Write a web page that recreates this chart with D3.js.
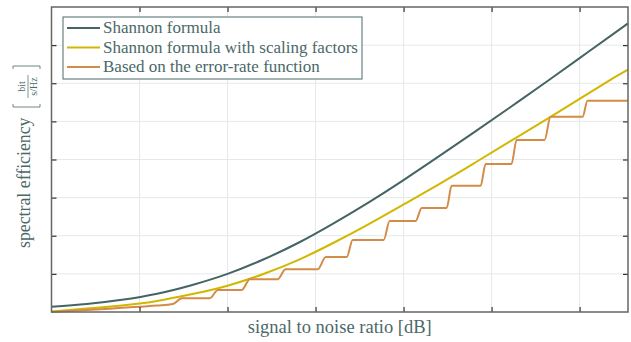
<!DOCTYPE html>
<html>
<head>
<meta charset="utf-8">
<script src="https://cdn.jsdelivr.net/npm/d3@7"></script>
<style>
  body { margin: 0; background: #fff; }
  text { font-family: "Liberation Serif", "DejaVu Serif", serif; fill: #4b6868; }
</style>
</head>
<body>
<script>
// data (SNR in dB, efficiency in bit/(s/Hz))
var shannonSnr = [-10, -8, -6, -4, -2, 0, 2, 4, 6, 8, 10, 12, 14, 16, 18, 20, 22, 22.75];
var shannonEff = [0.14, 0.21, 0.32, 0.48, 0.71, 1.0, 1.37, 1.81, 2.32, 2.87, 3.46, 4.08, 4.71, 5.35, 6.0, 6.66, 7.32, 7.57];

var scaledSnr = [-10, -8, -6, -5, -4, -2, 0, 2, 4, 6, 8, 10, 12, 14, 16, 18, 20, 22, 22.75];
var scaledEff = [0.01, 0.09, 0.17, 0.22, 0.29, 0.47, 0.69, 0.99, 1.36, 1.81, 2.3, 2.82, 3.35, 3.9, 4.46, 5.02, 5.59, 6.16, 6.36];

var errorSnr = [-10, -8, -6, -4, -3.1, -2.6, -1.0, -0.55, 0.81, 1.27, 2.85, 3.3, 5.13, 5.58, 6.77, 7.11,
                8.87, 9.21, 10.69, 11.03, 12.45, 12.73, 14.38, 14.66, 16.13, 16.42, 18.01, 18.35, 20.17, 20.45, 22.75];
var errorEff = [0.0, 0.05, 0.11, 0.17, 0.21, 0.36, 0.36, 0.58, 0.58, 0.86, 0.86, 1.12, 1.12, 1.44, 1.44, 1.89,
                1.89, 2.39, 2.39, 2.73, 2.73, 3.31, 3.31, 3.88, 3.88, 4.51, 4.51, 5.12, 5.12, 5.54, 5.54];

var xTicks = [-5, 0, 5, 10, 15, 20];
var yTicks = [1, 2, 3, 4, 5, 6, 7];

var legendNames = ["Shannon formula", "Shannon formula with scaling factors", "Based on the error-rate function"];
var colors = ["#456464", "#d2b700", "#d38c48"];

//Chart dimensions (in pixels)
var width = 631,
    height = 342,
    plotLeft = 51.5, plotRight = 628, plotTop = 7, plotBottom = 312;

var x = d3.scaleLinear().domain([-10, 22.75]).range([plotLeft, plotRight]);
var y = d3.scaleLinear().domain([0, 8]).range([plotBottom, plotTop]);

var svg = d3.select("body").append("svg")
    .attr("width", width)
    .attr("height", height);

//grid
svg.append("g").selectAll("line")
    .data(xTicks).enter().append("line")
    .attr("x1", function(d) { return x(d); }).attr("x2", function(d) { return x(d); })
    .attr("y1", plotTop).attr("y2", plotBottom)
    .attr("stroke", "#e6e9e9").attr("stroke-width", 1);
svg.append("g").selectAll("line")
    .data(yTicks).enter().append("line")
    .attr("y1", function(d) { return y(d); }).attr("y2", function(d) { return y(d); })
    .attr("x1", plotLeft).attr("x2", plotRight)
    .attr("stroke", "#e6e9e9").attr("stroke-width", 1);

//series
var series = [
  { snr: shannonSnr, eff: shannonEff, curve: d3.curveNatural },
  { snr: scaledSnr, eff: scaledEff, curve: d3.curveNatural },
  { snr: errorSnr, eff: errorEff, curve: d3.curveMonotoneX }
];

var plot = svg.append("g");
series.forEach(function(s, i) {
  var pts = s.snr.map(function(d, j) { return [d, s.eff[j]]; });
  var line = d3.line()
      .x(function(d) { return x(d[0]); })
      .y(function(d) { return y(d[1]); })
      .curve(s.curve);
  plot.append("path")
      .attr("d", line(pts))
      .attr("fill", "none")
      .attr("stroke", colors[i])
      .attr("stroke-width", 2);
});

//axes, ticks inward on all sides
var tickLen = 5;
svg.append("g").attr("transform", "translate(0," + plotBottom + ")")
    .call(d3.axisTop(x).tickValues(xTicks).tickSize(tickLen).tickFormat(""));
svg.append("g").attr("transform", "translate(0," + plotTop + ")")
    .call(d3.axisBottom(x).tickValues(xTicks).tickSize(tickLen).tickFormat(""));
svg.append("g").attr("transform", "translate(" + plotLeft + ",0)")
    .call(d3.axisRight(y).tickValues(yTicks).tickSize(tickLen).tickFormat(""));
svg.append("g").attr("transform", "translate(" + plotRight + ",0)")
    .call(d3.axisLeft(y).tickValues(yTicks).tickSize(tickLen).tickFormat(""));
svg.selectAll(".domain").remove();
svg.selectAll(".tick line").attr("stroke", "#333").attr("stroke-width", 1.2);

svg.append("rect")
    .attr("x", plotLeft).attr("y", plotTop)
    .attr("width", plotRight - plotLeft).attr("height", plotBottom - plotTop)
    .attr("fill", "none").attr("stroke", "#666").attr("stroke-width", 1.5);

//legend
var legend = svg.append("g").attr("transform", "translate(63,17)");
legend.append("rect")
    .attr("width", 299).attr("height", 62)
    .attr("fill", "#fff").attr("stroke", "#4b6868").attr("stroke-width", 1);
legendNames.forEach(function(name, i) {
  var cy = 11 + i * 19.5;
  legend.append("line")
      .attr("x1", 4).attr("x2", 37).attr("y1", cy).attr("y2", cy)
      .attr("stroke", colors[i]).attr("stroke-width", 2);
  legend.append("text")
      .attr("x", 40).attr("y", cy + 5)
      .attr("font-size", 17)
      .text(name);
});

//axis labels
svg.append("text")
    .attr("x", (plotLeft + plotRight) / 2).attr("y", 333)
    .attr("text-anchor", "middle")
    .attr("font-size", 18.5)
    .text("signal to noise ratio [dB]");

var ylab = svg.append("g").attr("transform", "translate(30,0) rotate(-90)");
ylab.append("text")
    .attr("x", -248).attr("y", 0)
    .attr("font-size", 17.8)
    .text("spectral efficiency");
// [ bit / (s/Hz) ]
ylab.append("path")
    .attr("d", "M-104,-17 L-107,-17 L-107,10 L-104,10 M-69,-17 L-66,-17 L-66,10 L-69,10")
    .attr("fill", "none").attr("stroke", "#4b6868").attr("stroke-width", 0.8);
ylab.append("line")
    .attr("x1", -98).attr("x2", -75).attr("y1", -2).attr("y2", -2)
    .attr("stroke", "#4b6868").attr("stroke-width", 0.7);
ylab.append("text")
    .attr("x", -86.5).attr("y", -5)
    .attr("text-anchor", "middle").attr("font-size", 10)
    .text("bit");
ylab.append("text")
    .attr("x", -86.5).attr("y", 7)
    .attr("text-anchor", "middle").attr("font-size", 10)
    .text("s/Hz");
</script>
</body>
</html>
